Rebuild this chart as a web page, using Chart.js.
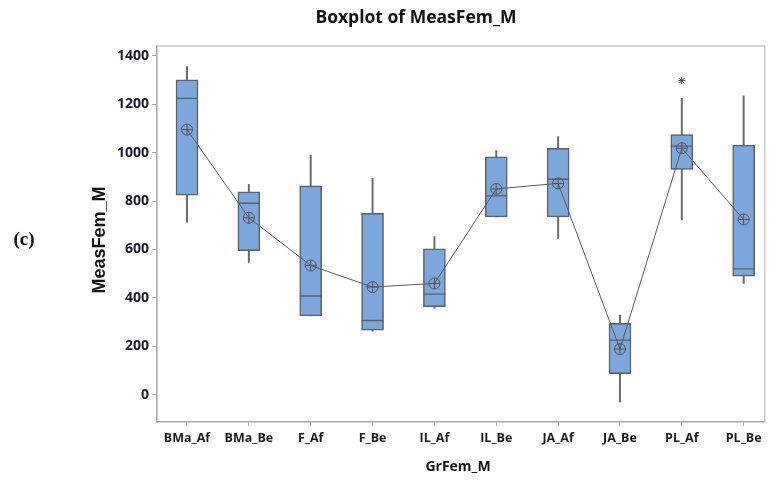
<!DOCTYPE html>
<html>
<head>
<meta charset="utf-8">
<script src="https://cdn.jsdelivr.net/npm/chart.js@4.4.1/dist/chart.umd.min.js"></script>
<style>
html,body{margin:0;padding:0;background:#fff;}
#wrap{width:777px;height:480px;position:relative;}
</style>
</head>
<body>
<div id="wrap"><canvas id="c" width="777" height="480"></canvas></div>
<script>
const categories = ['BMa_Af','BMa_Be','F_Af','F_Be','IL_Af','IL_Be','JA_Af','JA_Be','PL_Af','PL_Be'];
const whiskerLow  = [713, 547, 326, 263, 357, 735, 646, -29, 722, 460];
const q1          = [824, 595, 326, 267, 364, 735, 735,  88, 931, 490];
const median      = [1224, 791, 408, 307, 416, 821, 890, 226, 1027, 520];
const q3          = [1300, 838, 863, 749, 603, 983, 1018, 295, 1074, 1031];
const whiskerHigh = [1355, 869, 990, 894, 653, 1008, 1066, 329, 1224, 1234];
const means       = [1095, 731, 534, 445, 460, 850, 873, 189, 1018, 724];
const outlierCat  = [8];
const outlierVal  = [1297];
const yTicks      = [0, 200, 400, 600, 800, 1000, 1200, 1400];

const chartTitle = 'Boxplot of MeasFem_M';
const xTitle = 'GrFem_M';
const yTitle = 'MeasFem_M';
const panelLabel = '(c)';

const boxFill = '#7BA7DC';
const edge = '#5f5f5f';

const textPlugin = {
  id: 'texts',
  beforeDatasetsDraw(chart) {
    const {ctx, chartArea: a} = chart;
    ctx.save();
    ctx.strokeStyle = '#c9c9c9';
    ctx.lineWidth = 1.5;
    ctx.beginPath();
    ctx.moveTo(a.left, a.top);
    ctx.lineTo(a.right, a.top);
    ctx.lineTo(a.right, a.bottom);
    ctx.stroke();
    ctx.restore();
  },
  afterDraw(chart) {
    const {ctx} = chart;
    ctx.save();
    ctx.fillStyle = '#111';
    ctx.textAlign = 'center';
    ctx.textBaseline = 'middle';
    ctx.font = 'bold 17.5px "Open Sans", sans-serif';
    ctx.fillText(chartTitle, 416, 18);
    ctx.font = 'bold 14px "Open Sans", sans-serif';
    ctx.fillText(xTitle, 458, 467);
    ctx.save();
    ctx.translate(100, 240);
    ctx.rotate(-Math.PI / 2);
    ctx.font = 'bold 18px "Liberation Sans", Arial, sans-serif';
    ctx.fillText(yTitle, 0, 0);
    ctx.restore();
    ctx.font = 'bold 19px "Liberation Serif", serif';
    ctx.fillText(panelLabel, 24, 240);
    ctx.restore();
  }
};

new Chart(document.getElementById('c'), {
  type: 'bar',
  data: {
    datasets: [
      {
        label: 'whiskers',
        data: categories.map((c, i) => ({x: i, y: [whiskerLow[i], whiskerHigh[i]]})),
        backgroundColor: '#6a6a6a',
        borderWidth: 0,
        barThickness: 1.3,
        grouped: false,
        order: 6
      },
      {
        label: 'boxes',
        data: categories.map((c, i) => ({x: i, y: [q1[i], q3[i]]})),
        backgroundColor: boxFill,
        borderColor: edge,
        borderWidth: 1.5,
        borderSkipped: false,
        barThickness: 22,
        grouped: false,
        order: 5
      },
      {
        type: 'scatter',
        label: 'median',
        data: categories.map((c, i) => ({x: i, y: median[i]})),
        pointStyle: 'line',
        pointRadius: 11,
        pointBorderColor: edge,
        pointBorderWidth: 1.3,
        order: 4
      },
      {
        type: 'line',
        label: 'mean',
        data: categories.map((c, i) => ({x: i, y: means[i]})),
        borderColor: '#5a5a5a',
        borderWidth: 1,
        pointStyle: 'circle',
        pointRadius: 5.5,
        pointBackgroundColor: 'rgba(0,0,0,0)',
        pointBorderColor: '#555',
        pointBorderWidth: 1,
        tension: 0,
        order: 3
      },
      {
        type: 'scatter',
        label: 'meanCross',
        data: categories.map((c, i) => ({x: i, y: means[i]})),
        pointStyle: 'cross',
        pointRadius: 5.5,
        pointBorderColor: '#555',
        pointBorderWidth: 1,
        order: 2
      },
      {
        type: 'scatter',
        label: 'outliers',
        data: outlierCat.map((c, k) => ({x: c, y: outlierVal[k]})),
        pointStyle: 'star',
        pointRadius: 3.5,
        pointBorderColor: '#444',
        pointBorderWidth: 1,
        order: 1
      }
    ]
  },
  options: {
    responsive: false,
    animation: false,
    layout: {padding: {top: 46, right: 2, left: 0, bottom: 0}},
    plugins: {legend: {display: false}, tooltip: {enabled: false}, title: {display: false}},
    scales: {
      x: {
        type: 'linear',
        offset: false,
        min: -0.485,
        max: 9.34,
        afterBuildTicks: s => { s.ticks = categories.map((c, i) => ({value: i})); },
        afterFit: s => { s.height = 58; },
        ticks: {
          callback: v => categories[v],
          autoSkip: false,
          maxRotation: 0,
          padding: 5,
          color: '#1a1a1a',
          font: {family: '"Open Sans", sans-serif', size: 12.5, weight: 'bold'}
        },
        grid: {offset: false, drawOnChartArea: false, tickLength: 4, color: '#a8a8a8'},
        border: {color: '#a8a8a8', width: 1.5}
      },
      y: {
        min: -112,
        max: 1440,
        afterBuildTicks: s => { s.ticks = yTicks.map(v => ({value: v})); },
        afterFit: s => { s.width = 157; },
        ticks: {
          callback: v => String(v),
          padding: 3,
          color: '#1a1a2a',
          font: {family: '"Open Sans", sans-serif', size: 14, weight: 'bold'}
        },
        grid: {drawOnChartArea: false, tickLength: 5, color: '#a8a8a8'},
        border: {color: '#a8a8a8', width: 1.5}
      }
    }
  },
  plugins: [textPlugin]
});
</script>
</body>
</html>
